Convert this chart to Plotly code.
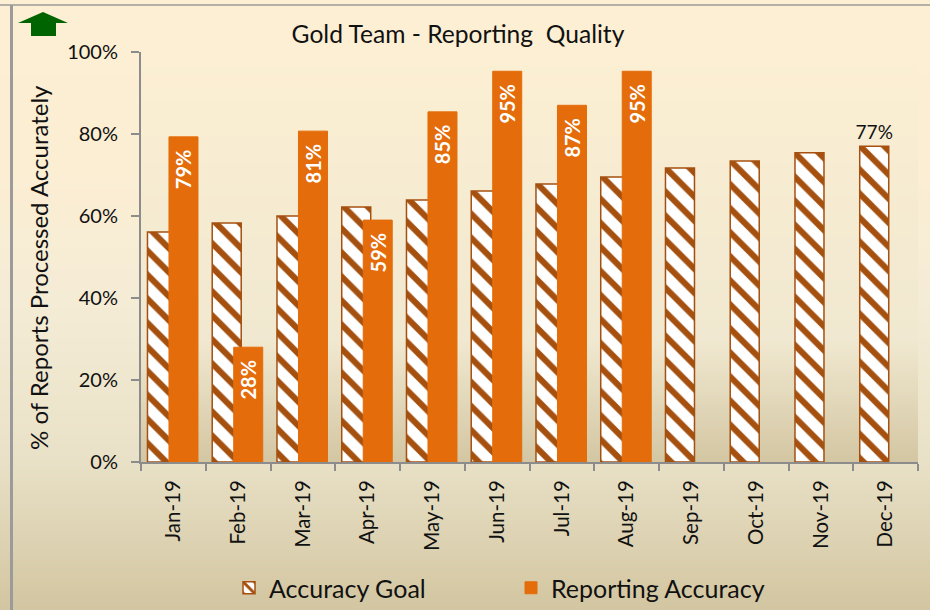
import plotly.graph_objects as go

months = ["Jan-19","Feb-19","Mar-19","Apr-19","May-19","Jun-19","Jul-19","Aug-19","Sep-19","Oct-19","Nov-19","Dec-19"]
goal = [56.1,58.3,60,62.2,63.9,66.1,67.8,69.5,71.7,73.4,75.4,77]
accuracy = [79.3,28,80.7,59,85.4,95.3,87,95.3,None,None,None,None]
accuracy_labels = ["79%","28%","81%","59%","85%","95%","87%","95%","","","",""]
goal_labels = [""]*11 + ["77%"]

FONT = "Lato"
W, H = 930, 610
L, R, T, B = 141, 918, 52, 462

def lerp(stops, y):
    for (y0, c0), (y1, c1) in zip(stops, stops[1:]):
        if y0 <= y <= y1:
            t = (y - y0) / (y1 - y0)
            return tuple(round(a + (b - a) * t) for a, b in zip(c0, c1))
    return stops[-1][1]

bg_stops = [(0,(253,239,211)),(150,(252,238,211)),(300,(245,236,214)),(460,(233,225,199)),(610,(210,197,160))]
plot_stops = [(52,(252,239,211)),(340,(240,232,208)),(462,(211,198,162))]

shapes = []
for y in range(0, H, 2):
    c = lerp(bg_stops, y)
    shapes.append(dict(type="rect", xref="paper", yref="paper", layer="below", line_width=0,
                       x0=(0-L)/(R-L), x1=(W-L)/(R-L), y0=(B-y)/(B-T), y1=(B-y-2)/(B-T),
                       fillcolor=f"rgb{c}"))
for y in range(T, B, 2):
    c = lerp(plot_stops, y)
    shapes.append(dict(type="rect", xref="paper", yref="paper", layer="below", line_width=0,
                       x0=0, x1=1, y0=(B-y)/(B-T), y1=(B-y-2)/(B-T), fillcolor=f"rgb{c}"))

def px(x): return (x-L)/(R-L)
def py(y): return (B-y)/(B-T)
# frame lines
shapes.append(dict(type="rect", xref="paper", yref="paper", layer="below", line_width=0,
                   x0=px(0), x1=px(W), y0=py(4), y1=py(6), fillcolor="#b5b0a5"))
shapes.append(dict(type="rect", xref="paper", yref="paper", layer="below", line_width=0,
                   x0=px(10), x1=px(13), y0=py(5), y1=py(H), fillcolor="#9b9b9b"))
# green arrow
arrow = [(18,23),(43,12),(68,23),(56,23),(56,36),(31,36),(31,23)]
path = "M" + " L".join(f"{px(a):.5f},{py(b):.5f}" for a, b in arrow) + " Z"
shapes.append(dict(type="path", xref="paper", yref="paper", path=path, fillcolor="#006400", line_width=0))

NB = "\u00a0\u00a0"
fig = go.Figure()
fig.add_bar(x=months, y=goal, name="Accuracy Goal", width=0.448, offset=-0.40,
            text=goal_labels, textposition="outside", cliponaxis=False, constraintext="none",
            textfont=dict(family=FONT, size=19, color="#111111"),
            marker=dict(color="white", line=dict(color="#A5500F", width=1.5),
                        pattern=dict(shape="\\", fgcolor="#A5500F", fgopacity=1, bgcolor="white", size=17, solidity=0.36)))
fig.add_bar(x=months, y=accuracy, name="Reporting Accuracy", width=0.448, offset=-0.068,
            text=[t + NB if t else "" for t in accuracy_labels], textposition="inside",
            insidetextanchor="end", textangle=-90, constraintext="none",
            textfont=dict(family=FONT, size=20, color="white", weight="bold"),
            marker=dict(color="#E46C0A", line=dict(color="#E46C0A", width=1)))

fig.update_layout(
    width=W, height=H, barmode="overlay",
    margin=dict(l=L, r=W-R, t=T, b=H-B),
    paper_bgcolor="#fdefd3", plot_bgcolor="rgba(0,0,0,0)",
    font=dict(family=FONT, color="#111111"),
    title=dict(text="Gold Team - Reporting  Quality", font=dict(family=FONT, size=24.6, color="#111111"),
               x=458/W, xanchor="center", y=1-34/H, yanchor="middle"),
    shapes=shapes,
    annotations=[dict(text="% of Reports Processed Accurately", textangle=-90, showarrow=False,
                      xref="paper", yref="paper", x=px(38), y=py(268), xanchor="center", yanchor="middle",
                      font=dict(family=FONT, size=24, color="#111111"))],
    showlegend=True,
    legend=dict(orientation="h", x=229/W, xanchor="left", xref="container",
                y=1-588/H, yref="container", yanchor="middle",
                font=dict(family=FONT, size=25, color="#111111"),
                bgcolor="rgba(0,0,0,0)", entrywidth=237, entrywidthmode="pixels", traceorder="normal"),
    xaxis=dict(type="category", categoryorder="array", categoryarray=months, tickson="boundaries",
               ticks="outside", ticklen=7, tickcolor="#8c8c8c", tickwidth=2, ticklabelstandoff=8,
               showline=True, linecolor="#8c8c8c", linewidth=2, showgrid=False,
               tickangle=-90, tickfont=dict(family=FONT, size=20.5, color="#111111")),
    yaxis=dict(range=[0,100], tickvals=[0,20,40,60,80,100], ticktext=["0%","20%","40%","60%","80%","100%"],
               ticks="outside", ticklen=8, tickcolor="#8c8c8c", tickwidth=2, ticklabelstandoff=9,
               showline=True, linecolor="#8c8c8c", linewidth=2, showgrid=False, zeroline=False,
               tickfont=dict(family=FONT, size=20, color="#111111")),
)
fig.write_html("out.html", config={"displayModeBar": False},
               post_script="document.body.style.margin='0';document.body.style.overflow='hidden';")
